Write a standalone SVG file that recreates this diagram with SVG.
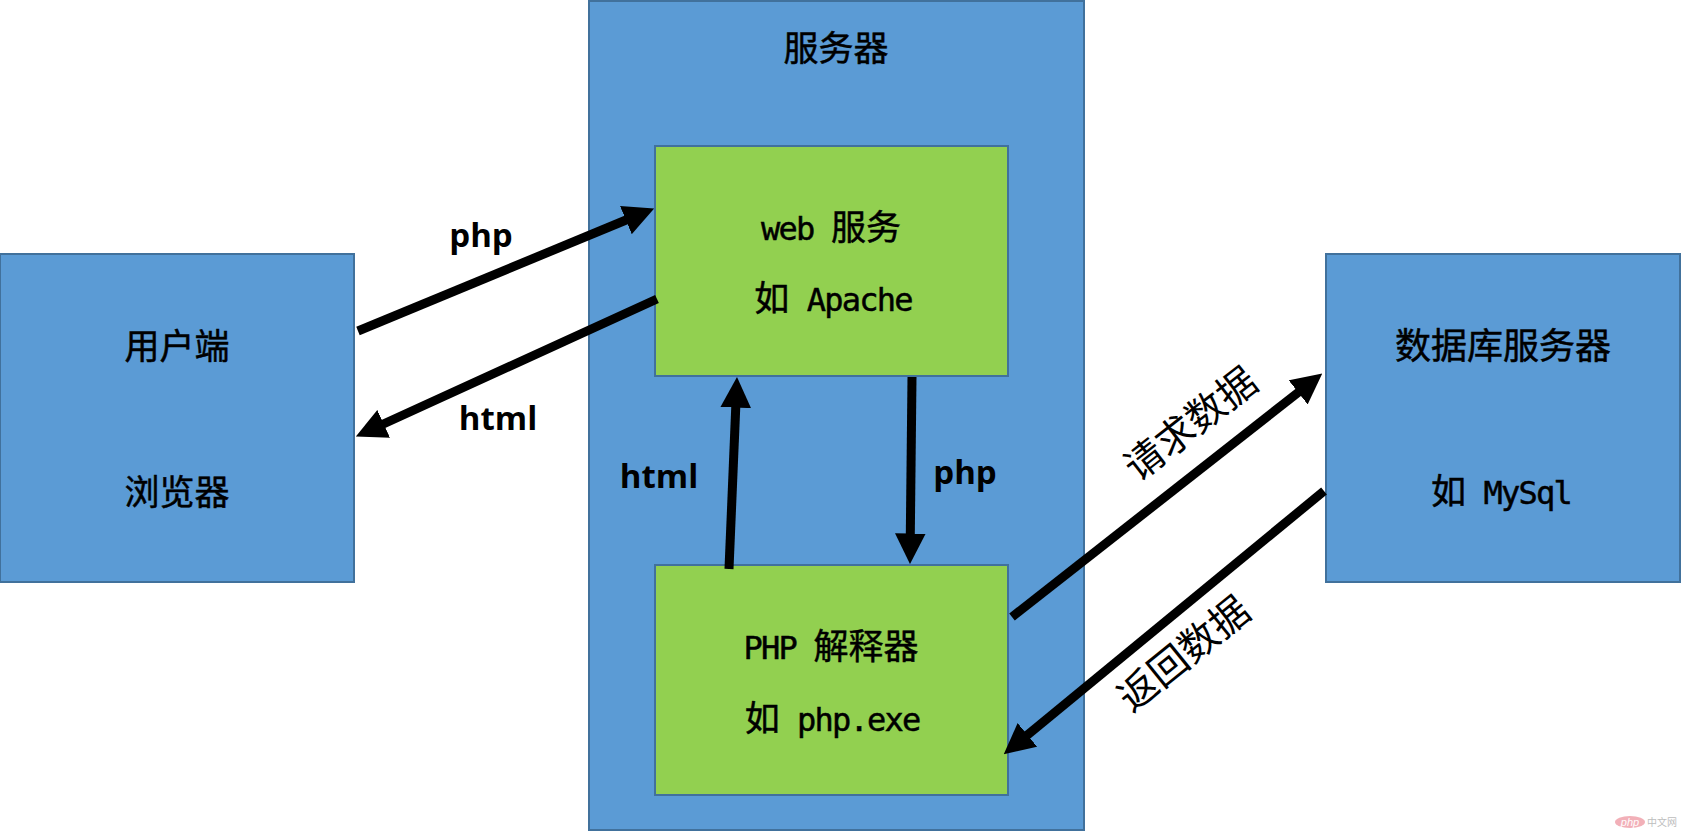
<svg xmlns="http://www.w3.org/2000/svg" width="1681" height="832" viewBox="0 0 1681 832">
<style>
  .blue{fill:#5B9BD5;stroke:#41719C;stroke-width:2}
  .green{fill:#92D050;stroke:#41719C;stroke-width:2}
  .t{font-family:"Noto Sans CJK SC","Noto Sans",sans-serif;font-size:35px;fill:#000;stroke:#000;stroke-width:0.5;text-anchor:middle}
  .m{font-family:"DejaVu Sans Mono","Liberation Mono",monospace;font-size:32px;letter-spacing:-1.8px}
  .lbl{font-family:"Open Sans","Liberation Sans",sans-serif;font-weight:700;font-size:33px;fill:#000;text-anchor:middle}
  .rl{font-family:"Noto Sans CJK SC",sans-serif;font-size:39px;fill:#000;text-anchor:middle}
  .arr{stroke:#000;stroke-width:9;fill:none;marker-end:url(#ah)}
</style>
<defs>
  <marker id="ah" viewBox="0 0 10 10" refX="0.5" refY="5" markerWidth="3.4" markerHeight="3.4" orient="auto" markerUnits="strokeWidth">
    <path d="M0,0 L10,5 L0,10 z" fill="#000"/>
  </marker>
</defs>
<rect width="1681" height="832" fill="#fff"/>

<g id="server">
  <rect class="blue" x="589" y="1" width="495" height="829"/>
  <text class="t" x="836" y="61">服务器</text>
</g>

<g id="client">
  <rect class="blue" x="0" y="254" width="354" height="328"/>
  <text class="t" x="177" y="359">用户端</text>
  <text class="t" x="177" y="505">浏览器</text>
</g>

<g id="db">
  <rect class="blue" x="1326" y="254" width="354" height="328"/>
  <text class="t" x="1503" y="359" style="font-size:36px">数据库服务器</text>
  <text class="t" x="1501" y="504">如<tspan class="m"> MySql</tspan></text>
</g>

<g id="web">
  <rect class="green" x="655" y="146" width="353" height="230"/>
  <text class="t" x="831" y="240"><tspan class="m">web </tspan>服务</text>
  <text class="t" x="833" y="311">如<tspan class="m"> Apache</tspan></text>
</g>

<g id="php">
  <rect class="green" x="655" y="565" width="353" height="230"/>
  <text class="t" x="831" y="659"><tspan class="m">PHP </tspan>解释器</text>
  <text class="t" x="832" y="731">如<tspan class="m"> php.exe</tspan></text>
</g>

<g id="connectors">
  <line class="arr" x1="358" y1="331" x2="627.3" y2="219.5"/>
  <line class="arr" x1="657" y1="299" x2="382.3" y2="424.5"/>
  <line class="arr" x1="729" y1="569" x2="735.8" y2="406"/>
  <line class="arr" x1="912" y1="377" x2="910.3" y2="535"/>
  <line class="arr" x1="1012" y1="617" x2="1299.4" y2="391.5"/>
  <line class="arr" x1="1324" y1="491" x2="1026.2" y2="735.9"/>
  <text class="lbl" x="481" y="247">php</text>
  <text class="lbl" x="498" y="430">html</text>
  <text class="lbl" x="659" y="488">html</text>
  <text class="lbl" x="965" y="484">php</text>
  <text class="rl" transform="translate(1190,423) rotate(-38)" y="14.8">请求数据</text>
  <text class="rl" transform="translate(1183,653) rotate(-39)" y="14.8">返回数据</text>
</g>

<g id="watermark" opacity="0.55">
  <ellipse cx="1630" cy="822" rx="15" ry="6" fill="#E8707F"/>
  <text x="1630" y="826" font-family="Liberation Sans,sans-serif" font-size="11" fill="#fff" text-anchor="middle" font-style="italic">php</text>
  <text x="1662" y="826" font-family="Noto Sans CJK SC,sans-serif" font-size="10" fill="#888" text-anchor="middle">中文网</text>
</g>
</svg>
